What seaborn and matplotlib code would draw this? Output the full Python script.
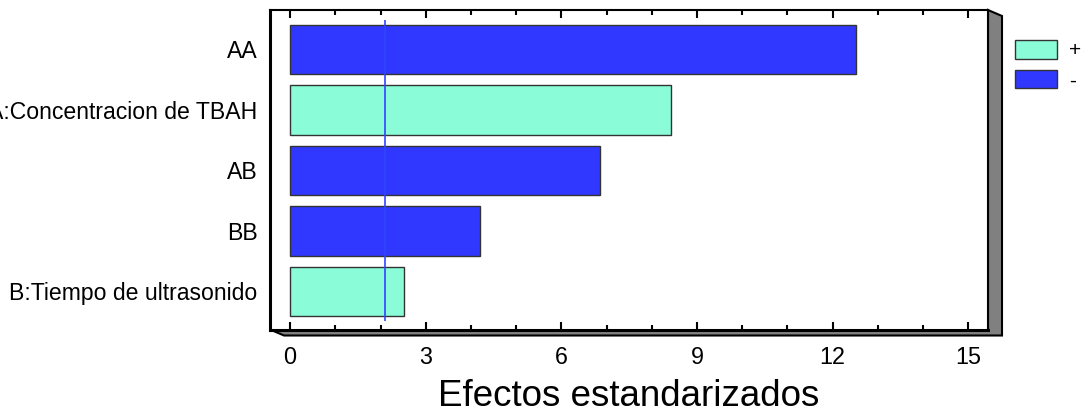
import numpy as np
import pandas as pd
import matplotlib
matplotlib.use("Agg")
import matplotlib.pyplot as plt
import seaborn as sns
from matplotlib.patches import Polygon, Patch
from matplotlib.ticker import MultipleLocator

# Pareto de efectos estandarizados
efectos = ["AA", "A:Concentracion de TBAH", "AB", "BB", "B:Tiempo de ultrasonido"]
valores = [12.53, 8.42, 6.86, 4.21, 2.51]
signos = ["-", "+", "-", "-", "+"]
t_critico = 2.11
x_ticks = [0, 3, 6, 9, 12, 15]

COLOR_POS = "#8AFCD8"
COLOR_NEG = "#3038FF"


def main():
    sns.set_style("white")
    plt.rcParams["font.family"] = ["Liberation Sans", "DejaVu Sans"]
    plt.rcParams["text.color"] = "black"
    plt.rcParams["xtick.color"] = "black"
    plt.rcParams["ytick.color"] = "black"
    plt.rcParams["axes.labelcolor"] = "black"

    df = pd.DataFrame({"efecto": efectos, "valor": valores, "signo": signos})

    W, H = 1088, 416
    fig = plt.figure(figsize=(W / 100, H / 100), dpi=100)
    L, R = 270 / W, 988 / W
    T, B = 1 - 10 / H, 1 - 329.5 / H
    ax = fig.add_axes([L, B, R - L, T - B])

    # sombra 3D del marco (abajo y derecha)
    dx, dy = 14 / W, 6 / H
    sombra = Polygon([(L, B), (L + dx, B - dy), (R + dx, B - dy),
                      (R + dx, T - dy), (R, T), (R, B)],
                     closed=True, transform=fig.transFigure,
                     facecolor="#808080", edgecolor="black", lw=1.5, zorder=-1)
    fig.add_artist(sombra)

    sns.barplot(data=df, x="valor", y="efecto", hue="signo",
                palette={"+": COLOR_POS, "-": COLOR_NEG},
                dodge=False, width=0.82, orient="h", legend=False,
                edgecolor="#333333", linewidth=1, saturation=1, ax=ax)

    n = len(efectos)
    ax.vlines(t_critico, -0.485, n - 1 + 0.485, color="#3344FF", lw=1.2, zorder=5)

    ax.set_xlim(-0.445, 15.44)
    ax.set_ylim(n - 1 + 0.63, -0.65)
    ax.set_xticks(x_ticks)
    ax.xaxis.set_minor_locator(MultipleLocator(1))
    ax.tick_params(axis="x", which="both", direction="in", top=True, bottom=True,
                   color="black", width=1.5, labelsize=16.8, pad=12)
    ax.tick_params(axis="x", which="major", length=6)
    ax.tick_params(axis="x", which="minor", length=3.5)
    ax.tick_params(axis="y", length=0, labelsize=16.6, pad=9)

    ax.set_ylabel("")
    ax.set_xlabel("Efectos estandarizados", fontsize=26.5, labelpad=7)

    for side, lw in [("left", 2.2), ("bottom", 2.2), ("top", 1.5), ("right", 1.5)]:
        ax.spines[side].set_visible(True)
        ax.spines[side].set_color("black")
        ax.spines[side].set_linewidth(lw)

    handles = [Patch(facecolor=COLOR_POS, edgecolor="#333333", label="+"),
               Patch(facecolor=COLOR_NEG, edgecolor="#333333", label="-")]
    fig.legend(handles=handles, loc="upper left",
               bbox_to_anchor=(1015 / W, 1 - 40 / H), frameon=False,
               fontsize=15, handlelength=2.0, handleheight=1.0,
               handletextpad=0.6, labelspacing=0.45,
               borderpad=0, borderaxespad=0)

    fig.savefig("out.png", dpi=100)


if __name__ == "__main__":
    main()
